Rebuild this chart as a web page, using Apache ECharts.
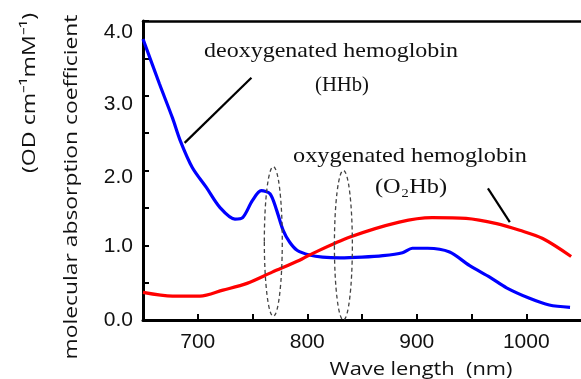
<!DOCTYPE html>
<html>
<head>
<meta charset="utf-8">
<script src="https://cdn.jsdelivr.net/npm/echarts@6/dist/echarts.min.js"></script>
<style>html,body{margin:0;padding:0;background:#fff;}#c{width:581px;height:379px;}</style>
</head>
<body>
<div id="c"></div>
<script>
// Wavelength (nm) and molecular absorption coefficient values
const hhbWave = [650,665,677,684,695,708,720,734,741,750,758,766,772,778,784,791,802,814,830,850,869,887,896,910,930,948,967,982,1003,1021,1040];
const hhbVal  = [3.76,3.16,2.7,2.4,2.04,1.77,1.51,1.35,1.37,1.6,1.73,1.69,1.47,1.2,1.04,0.93,0.87,0.84,0.83,0.84,0.86,0.9,0.96,0.96,0.91,0.73,0.57,0.43,0.29,0.2,0.17];
const o2hbWave = [650,677,702,723,745,768,793,802,839,884,914,945,973,994,1015,1041];
const o2hbVal  = [0.37,0.32,0.32,0.4,0.49,0.64,0.8,0.87,1.11,1.31,1.37,1.36,1.29,1.2,1.09,0.85];
const xTicks = [700,800,900,1000];
const yTicks = [0,1,2,3,4];
// annotation anchors (data coordinates)
const ellipses = [{x:769,y:1.05,rxNm:8.2,ryVal:1.0},{x:833,y:1.0,rxNm:8.2,ryVal:1.0}];
const leaders = [[[688,2.37],[749,3.24]],[[965,1.76],[985,1.31]]];

// style: vertical nudge of y tick labels (px, downward) as in the original figure
const yLabelNudge = {0:0, 1:1, 2:7, 3:8, 4:11};

const chart = echarts.init(document.getElementById('c'), null, {renderer:'canvas'});
const pair = (xs, ys) => xs.map((x,i)=>[x, ys[i]]);
const tickFont = {fontFamily:'Liberation Sans', fontSize:21, color:'#111'};
const yRich = {};
Object.keys(yLabelNudge).forEach(k => {
  yRich['n'+k] = {fontFamily:'Liberation Sans', fontSize:21, color:'#111', padding:[2*yLabelNudge[k],0,0,0]};
});

chart.setOption({
  animation:false,
  grid:{left:143, right:0, top:21, bottom:59, show:false},
  xAxis:[{
    type:'value', min:650, max:1050, interval:50, position:'bottom',
    axisLine:{show:true, lineStyle:{color:'#000', width:3}},
    axisTick:{show:true, inside:true, length:6, lineStyle:{color:'#000', width:2}},
    axisLabel:Object.assign({margin:12, showMinLabel:false, showMaxLabel:false,
      formatter:v => xTicks.includes(v) ? String(v) : ''}, tickFont),
    splitLine:{show:false}
  },{
    type:'value', min:650, max:1050, position:'top',
    axisLine:{show:true, onZero:false, lineStyle:{color:'#000', width:2.5}},
    axisTick:{show:false}, axisLabel:{show:false}, splitLine:{show:false}
  }],
  yAxis:{
    type:'value', min:0, max:4, interval:0.5,
    axisLine:{show:true, lineStyle:{color:'#000', width:3}},
    axisTick:{show:true, inside:true, length:6, lineStyle:{color:'#000', width:2}},
    axisLabel:Object.assign({margin:10, rich:yRich,
      formatter:v => yTicks.includes(v) ? '{n'+v+'|'+v.toFixed(1)+'}' : ''}, tickFont),
    splitLine:{show:false}
  },
  series:[
    {type:'line', name:'HHb', data:pair(hhbWave,hhbVal), smooth:0.3, showSymbol:false,
     lineStyle:{color:'#0000ff', width:3.2}, z:3},
    {type:'line', name:'O2Hb', data:pair(o2hbWave,o2hbVal), smooth:0.3, showSymbol:false,
     lineStyle:{color:'#ff0000', width:3.2}, z:3}
  ]
});

const toPx = (x,y) => chart.convertToPixel({xAxisIndex:0, yAxisIndex:0}, [x,y]);
const g = [];
ellipses.forEach(e => {
  const c = toPx(e.x, e.y);
  const r = toPx(e.x + e.rxNm, e.y + e.ryVal);
  g.push({type:'ellipse', shape:{cx:c[0], cy:c[1], rx:Math.abs(r[0]-c[0]), ry:Math.abs(c[1]-r[1])},
    style:{fill:null, stroke:'#444', lineWidth:1.3, lineDash:[4,3]}, z:10});
});
leaders.forEach(l => {
  const a = toPx(l[0][0], l[0][1]), b = toPx(l[1][0], l[1][1]);
  g.push({type:'line', shape:{x1:a[0], y1:a[1], x2:b[0], y2:b[1]}, style:{stroke:'#000', lineWidth:2.2}, z:10});
});

const ctx = document.createElement('canvas').getContext('2d');
function measure(text, family, size) { ctx.font = size + 'px "' + family + '"'; return ctx.measureText(text).width; }
// text label with target length (the original figure's text is horizontally stretched)
function label(text, family, size, cx, cy, targetLen, rot) {
  const w = measure(text, family, size);
  const s = targetLen / w;
  return {type:'text', x:cx, y:cy, rotation:rot||0, scaleX:s, scaleY:1, originX:0, originY:0,
    style:{text:text, fontFamily:family, fontSize:size, fill:'#111', textAlign:'center', textVerticalAlign:'middle'}, z:10};
}
g.push(label('deoxygenated hemoglobin', 'Liberation Serif', 22, 331, 51, 254));
g.push(label('(HHb)', 'Liberation Serif', 22, 342, 85, 54));
g.push(label('oxygenated hemoglobin', 'Liberation Serif', 22, 410, 156, 234));
g.push(label('(O₂Hb)', 'Liberation Serif', 22, 411, 187, 72));
g.push(label('Wave length  (nm)', 'Open Sans', 19, 421, 370, 183));
g.push(label('molecular absorption coefficient', 'Open Sans', 19, 72, 187, 345, Math.PI/2));
g.push(label('(OD cm⁻¹mM⁻¹)', 'Open Sans', 19, 30, 93, 160, Math.PI/2));
chart.setOption({graphic:g});
</script>
</body>
</html>
